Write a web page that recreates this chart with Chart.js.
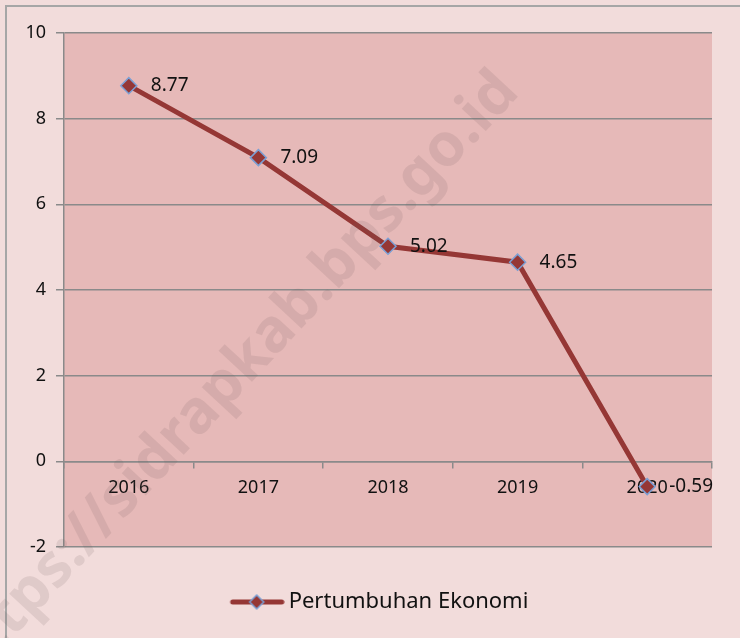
<!DOCTYPE html>
<html>
<head>
<meta charset="utf-8">
<script src="https://cdn.jsdelivr.net/npm/chart.js@4.4.0/dist/chart.umd.min.js"></script>
<style>
html,body{margin:0;padding:0;background:#f2dcdb;}
#wrap{width:740px;height:638px;}
</style>
</head>
<body>
<div id="wrap"><canvas id="chart" width="740" height="638"></canvas></div>
<script>
// data
const years = ['2016', '2017', '2018', '2019', '2020'];
const growth = [8.77, 7.09, 5.02, 4.65, -0.59];
const yMin = -2, yMax = 10, yStep = 2;
const seriesName = 'Pertumbuhan Ekonomi';
const watermark = 'https://sidrapkab.bps.go.id';

const lineColor = '#953735';
const markerEdge = '#7b9fd4';
const gridColor = '#8a8a8a';
const fontName = "'Noto Sans', sans-serif";

// legend symbol: line with a diamond, drawn at the right end of a wider canvas
// so it sits close to the text like in the original
const legendMark = document.createElement('canvas');
legendMark.width = 108; legendMark.height = 18;
(function(){
  const c = legendMark.getContext('2d');
  c.strokeStyle = lineColor; c.lineWidth = 5; c.lineCap = 'round';
  c.beginPath(); c.moveTo(56, 9); c.lineTo(105, 9); c.stroke();
  c.beginPath();
  c.moveTo(80, 2); c.lineTo(87, 9); c.lineTo(80, 16); c.lineTo(73, 9); c.closePath();
  c.fillStyle = lineColor; c.fill();
  c.strokeStyle = markerEdge; c.lineWidth = 1.5; c.stroke();
})();

const backdrop = {
  id: 'backdrop',
  beforeDraw(chart) {
    const {ctx, chartArea: a} = chart;
    ctx.save();
    ctx.fillStyle = '#f2dcdb';
    ctx.fillRect(0, 0, chart.width, chart.height);
    ctx.strokeStyle = '#a6a6a6'; ctx.lineWidth = 2;
    ctx.beginPath(); ctx.moveTo(6, chart.height); ctx.lineTo(6, 6); ctx.lineTo(chart.width, 6); ctx.stroke();
    ctx.fillStyle = '#e6b9b8';
    ctx.fillRect(a.left, a.top, a.right - a.left, a.bottom - a.top);
    ctx.restore();
  }
};

const pointLabels = {
  id: 'pointLabels',
  afterDatasetsDraw(chart) {
    const {ctx} = chart;
    const meta = chart.getDatasetMeta(0);
    ctx.save();
    ctx.font = '19px ' + fontName;
    ctx.fillStyle = '#111';
    ctx.textAlign = 'left';
    ctx.textBaseline = 'middle';
    meta.data.forEach((pt, i) => {
      ctx.fillText(growth[i].toFixed(2), pt.x + 22, pt.y);
    });
    ctx.restore();
  }
};

const stamp = {
  id: 'stamp',
  afterDraw(chart) {
    const {ctx} = chart;
    ctx.save();
    ctx.translate(232, 378);
    ctx.rotate(-47 * Math.PI / 180);
    ctx.font = 'bold 60px ' + fontName;
    ctx.fillStyle = 'rgba(110, 90, 90, 0.14)';
    ctx.textAlign = 'center';
    ctx.textBaseline = 'middle';
    ctx.fillText(watermark, 0, 0);
    ctx.restore();
  }
};

new Chart(document.getElementById('chart'), {
  type: 'line',
  data: {
    labels: years,
    datasets: [{
      label: seriesName,
      data: growth,
      borderColor: lineColor,
      borderWidth: 5,
      pointStyle: 'rectRot',
      pointRadius: 8,
      pointBackgroundColor: lineColor,
      pointBorderColor: markerEdge,
      pointBorderWidth: 1.5,
      tension: 0
    }]
  },
  options: {
    responsive: false,
    devicePixelRatio: 1,
    animation: false,
    layout: {padding: {left: 0, top: 33, right: 28, bottom: 15}},
    scales: {
      y: {
        min: yMin, max: yMax,
        ticks: {stepSize: yStep, color: '#111', font: {family: fontName, size: 18}, padding: 10},
        grid: {color: gridColor, lineWidth: 1.5, tickLength: 8},
        border: {color: gridColor, width: 1.5},
        afterFit(s) { s.width = 64; }
      },
      x: {
        position: {y: 0},
        offset: true,
        ticks: {color: '#111', font: {family: fontName, size: 18}, padding: 10, maxRotation: 0},
        grid: {drawOnChartArea: false, color: gridColor, lineWidth: 1.5, tickLength: 6, offset: true},
        border: {color: gridColor, width: 1.5}
      }
    },
    plugins: {
      legend: {
        position: 'bottom',
        labels: {
          usePointStyle: true,
          pointStyle: legendMark,
          pointStyleWidth: 94,
          color: '#111',
          font: {family: fontName, size: 22},
          padding: 44
        }
      },
      tooltip: {enabled: false}
    }
  },
  plugins: [backdrop, pointLabels, stamp]
});
</script>
</body>
</html>
